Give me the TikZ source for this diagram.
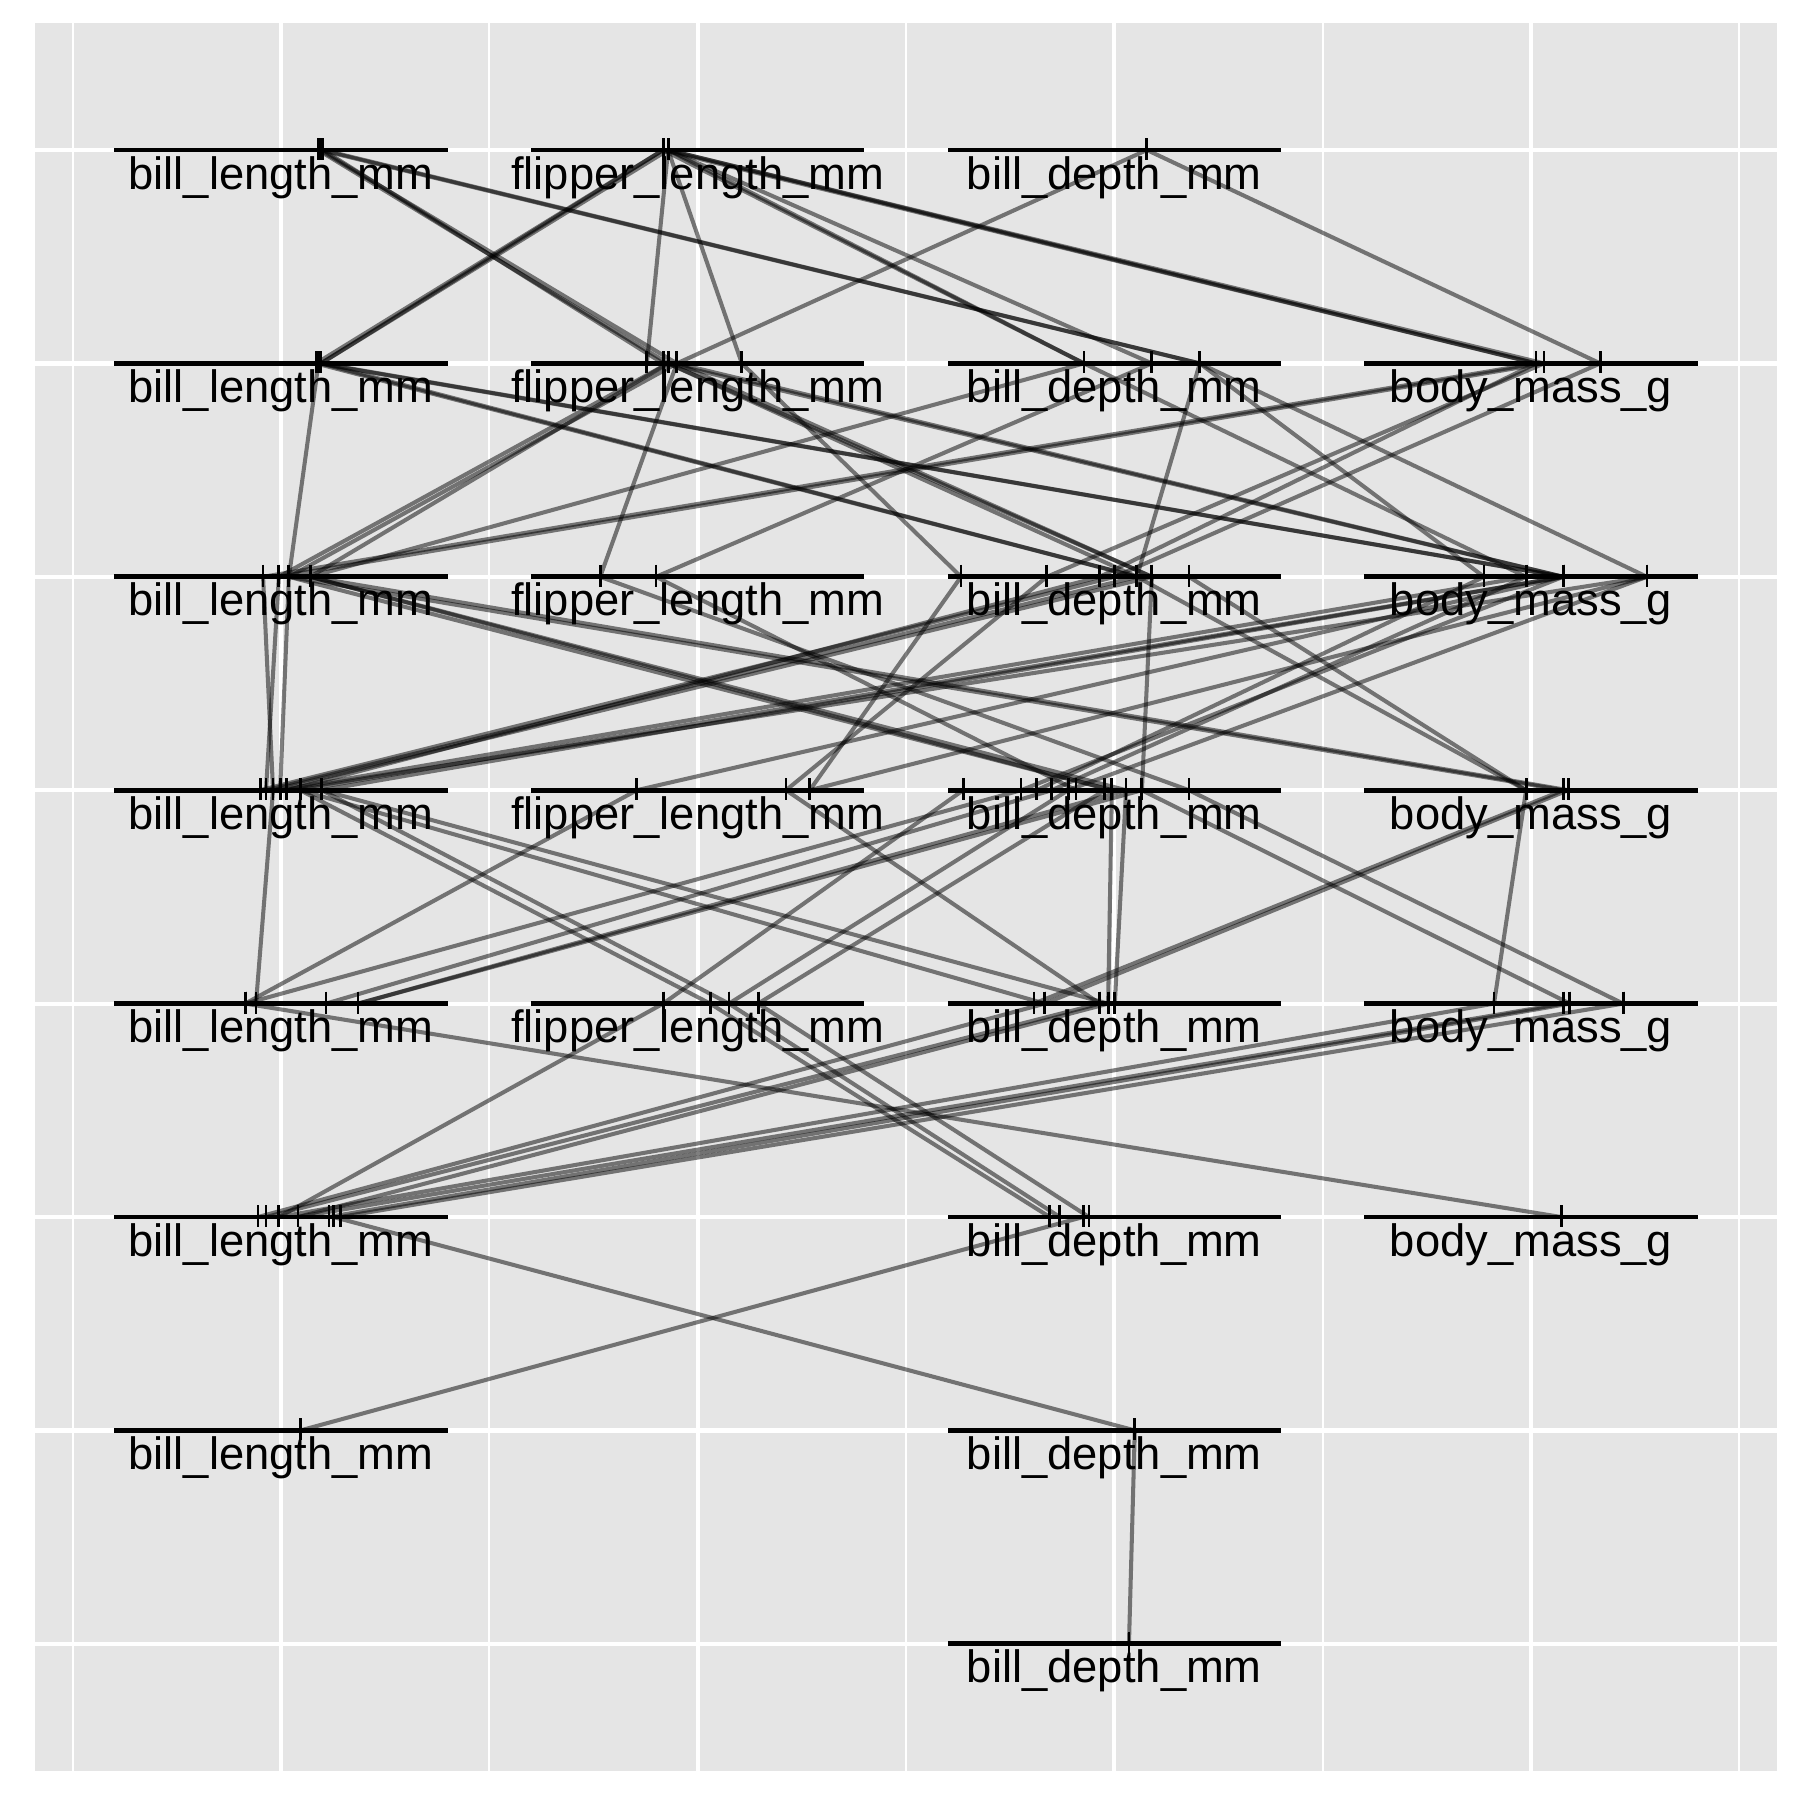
\documentclass[tikz,border=0pt]{standalone}
\usepackage{fontspec}
\newfontfamily\plotfont{Liberation Sans}
\usepackage{tikz}
\usetikzlibrary{calc}

\definecolor{panelgrey}{HTML}{E5E5E5}

% one bar per split variable, with its name below
\newcommand{\splitvar}[4]{%
  \node[varbar] (#1) at (#2,#3) {};
  \node[varname] (#1-name) at ([yshift=-3.9mm]#1.center) {#4};}

% parent/offset/child/offset, offsets measured from the bar centres
\newcommand{\splitlinks}{%
  bl1/0.089/fl2/-0.071, bl1/0.094/fl2/-0.050, bl1/0.101/fl2/-0.083,
  bl1/0.094/bd2/0.205, bl1/0.101/bd2/0.205,
  fl1/-0.083/bl2/0.084, fl1/-0.071/bl2/0.096, fl1/-0.083/bl2/0.096,
  fl1/-0.071/fl2/-0.122, fl1/-0.071/fl2/0.106,
  fl1/-0.071/bd2/-0.073, fl1/-0.083/bd2/-0.073, fl1/-0.071/bd2/0.090,
  fl1/-0.083/bm2/0.012, fl1/-0.071/bm2/0.031, fl1/-0.071/bm2/0.012,
  bd1/0.078/fl2/-0.050, bd1/0.078/bm2/0.166,
  bl2/0.090/bl3/0.019, bl2/0.084/bd3/0.054, bl2/0.096/bd3/0.054,
  bl2/0.090/bm3/0.077, bl2/0.096/bm3/0.077,
  fl2/-0.071/bl3/-0.005, fl2/-0.050/bl3/0.019, fl2/-0.071/bl3/0.070,
  fl2/-0.050/fl3/-0.234,
  fl2/-0.071/bd3/0.054, fl2/-0.050/bd3/0.090, fl2/-0.071/bd3/0.090,
  fl2/-0.071/bm3/0.077, fl2/-0.050/bm3/0.077, fl2/0.106/bd3/-0.368,
  bd2/-0.073/bl3/0.070, bd2/0.090/fl3/-0.100, bd2/0.205/bd3/0.054,
  bd2/0.205/bm3/-0.113, bd2/0.205/bm3/0.278, bd2/-0.073/bm3/-0.012,
  bm2/0.012/bl3/-0.043, bm2/0.031/bl3/-0.005,
  bm2/0.031/bd3/-0.162, bm2/0.012/bd3/-0.035, bm2/0.166/bd3/0.001,
  bl3/-0.005/bl4/-0.036, bl3/0.019/bl4/-0.002, bl3/-0.043/bl4/-0.019,
  bl3/0.019/bd4/-0.006, bl3/0.070/bd4/0.028, bl3/0.070/bd4/-0.006,
  bl3/0.019/bm4/0.077, bl3/0.070/bm4/0.089,
  fl3/-0.234/bd4/0.179, fl3/-0.100/bd4/-0.092,
  bd3/0.001/bl4/-0.050, bd3/0.054/bl4/-0.036, bd3/0.090/bl4/-0.019,
  bd3/-0.035/bl4/0.014,
  bd3/-0.368/fl4/0.269, bd3/-0.162/fl4/0.212, bd3/0.090/bd4/0.066,
  bd3/0.054/bm4/-0.012, bd3/0.179/bm4/-0.012,
  bm3/0.077/fl4/-0.146, bm3/-0.012/bl4/-0.002, bm3/0.077/bl4/0.046,
  bm3/0.077/bl4/0.098, bm3/0.278/bl4/0.014,
  bm3/0.077/bd4/-0.224, bm3/-0.113/bd4/-0.186, bm3/0.278/bd4/-0.111,
  bm3/-0.012/bd4/-0.150, bm3/0.278/fl4/0.269,
  bl4/-0.019/bl5/-0.060, bl4/0.046/fl5/0.030, bl4/0.098/fl5/0.075,
  bl4/0.098/bd5/-0.015, bl4/0.046/bd5/-0.167,
  fl4/-0.146/bl5/-0.086, fl4/0.212/bd5/-0.035,
  bd4/0.028/bl5/0.185, bd4/0.066/bl5/0.185, bd4/-0.224/bl5/-0.086,
  bd4/-0.150/bl5/0.108,
  bd4/-0.006/bd5/-0.015, bd4/0.028/bd5/0.001,
  bd4/-0.111/fl5/0.075, bd4/-0.023/fl5/0.145, bd4/-0.363/fl5/-0.083,
  bd4/0.066/bm5/0.093, bd4/0.179/bm5/0.221,
  bm4/0.077/bd5/-0.193, bm4/0.089/bd5/-0.167, bm4/-0.012/bm5/-0.089,
  bl5/-0.086/bm6/0.072, fl5/-0.083/bl6/-0.005,
  fl5/0.030/bd6/-0.155, fl5/0.075/bd6/-0.131, fl5/0.145/bd6/-0.061,
  bd5/-0.035/bl6/-0.036, bd5/-0.015/bl6/0.041, bd5/-0.167/bl6/-0.055,
  bm5/0.077/bl6/0.041, bm5/0.093/bl6/0.115, bm5/0.221/bl6/0.142,
  bm5/-0.089/bl6/-0.005,
  bl6/0.126/bd7/0.049, bd6/-0.075/bl7/0.047,
  bd7/0.049/bd8/0.035}

\begin{document}
\begin{tikzpicture}[x=4.167cm, y=-2.134cm,
    varbar/.style ={rectangle, fill=black, inner sep=0pt,
      minimum width=3.333cm, minimum height=0.047cm},
    varname/.style ={anchor=base, inner sep=0pt,
      font=\plotfont\fontsize{12.9}{15}\selectfont},
    splitlink/.style ={draw=black, opacity=0.5, line width=1.15pt},
    splitmark/.style ={draw=black, line width=0.8pt},
    majorgrid/.style ={draw=white, line width=1.2pt},
    minorgrid/.style ={draw=white, line width=0.6pt}]
    \useasboundingbox (0.3257,0.2971) rectangle (4.6453,8.7320);
    % panel and grid
    \fill[panelgrey] (0.409,0.405) rectangle (4.591,8.595);
    \foreach \c in {0.5,1.5,...,4.5}
      \draw[minorgrid] (\c,0.405) -- (\c,8.595);
    \foreach \c in {1,...,4}
      \draw[majorgrid] (\c,0.405) -- (\c,8.595);
    \foreach \r in {1,...,8}
      \draw[majorgrid] (0.409,\r) -- (4.591,\r);
    % split variables, one row per depth
    \foreach \n/\c/\r/\t in {
        bl1/1/1/bill\_length\_mm, fl1/2/1/flipper\_length\_mm, bd1/3/1/bill\_depth\_mm,
        bl2/1/2/bill\_length\_mm, fl2/2/2/flipper\_length\_mm, bd2/3/2/bill\_depth\_mm, bm2/4/2/body\_mass\_g,
        bl3/1/3/bill\_length\_mm, fl3/2/3/flipper\_length\_mm, bd3/3/3/bill\_depth\_mm, bm3/4/3/body\_mass\_g,
        bl4/1/4/bill\_length\_mm, fl4/2/4/flipper\_length\_mm, bd4/3/4/bill\_depth\_mm, bm4/4/4/body\_mass\_g,
        bl5/1/5/bill\_length\_mm, fl5/2/5/flipper\_length\_mm, bd5/3/5/bill\_depth\_mm, bm5/4/5/body\_mass\_g,
        bl6/1/6/bill\_length\_mm, bd6/3/6/bill\_depth\_mm, bm6/4/6/body\_mass\_g,
        bl7/1/7/bill\_length\_mm, bd7/3/7/bill\_depth\_mm,
        bd8/3/8/bill\_depth\_mm}
      {\splitvar{\n}{\c}{\r}{\t}}
    % parent split -> child split
    \foreach \p/\dp/\k/\dk in \splitlinks
      \draw[splitlink] ($(\p)+(\dp,0)$) -- ($(\k)+(\dk,0)$);
    % split points on the bars
    \foreach \p/\dp/\k/\dk in \splitlinks {
      \draw[splitmark] ($(\p)+(\dp,0)$) ++(0,0.12cm) -- ++(0,-0.22cm);
      \draw[splitmark] ($(\k)+(\dk,0)$) ++(0,0.12cm) -- ++(0,-0.22cm);
    }
\end{tikzpicture}
\end{document}
